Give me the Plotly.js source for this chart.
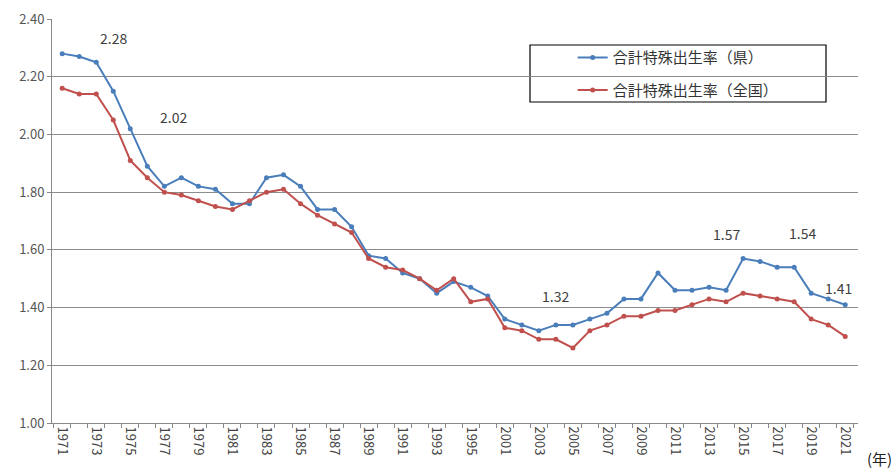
<!DOCTYPE html>
<html><head><meta charset="utf-8">
<script src="https://cdn.plot.ly/plotly-3.0.1.min.js"></script>
<style>html,body{margin:0;padding:0;background:#fff}#chart{width:896px;height:470px}</style>
</head><body><div id="chart"></div>
<script>
const years = ["1971","1972","1973","1974","1975","1976","1977","1978","1979","1980","1981","1982","1983","1984","1985","1986","1987","1988","1989","1990","1991","1992","1993","1994","1995","1996","2001","2002","2003","2004","2005","2006","2007","2008","2009","2010","2011","2012","2013","2014","2015","2016","2017","2018","2019","2020","2021"];
const prefRate = [2.28,2.27,2.25,2.15,2.02,1.89,1.82,1.85,1.82,1.81,1.76,1.76,1.85,1.86,1.82,1.74,1.74,1.68,1.58,1.57,1.52,1.50,1.45,1.49,1.47,1.44,1.36,1.34,1.32,1.34,1.34,1.36,1.38,1.43,1.43,1.52,1.46,1.46,1.47,1.46,1.57,1.56,1.54,1.54,1.45,1.43,1.41];
const natRate = [2.16,2.14,2.14,2.05,1.91,1.85,1.80,1.79,1.77,1.75,1.74,1.77,1.80,1.81,1.76,1.72,1.69,1.66,1.57,1.54,1.53,1.50,1.46,1.50,1.42,1.43,1.33,1.32,1.29,1.29,1.26,1.32,1.34,1.37,1.37,1.39,1.39,1.41,1.43,1.42,1.45,1.44,1.43,1.42,1.36,1.34,1.30];
const seriesNames = ["合計特殊出生率（県）","合計特殊出生率（全国）"];
const yTicks = [1.0,1.2,1.4,1.6,1.8,2.0,2.2,2.4];
const labelYears = ["1971","1975","2003","2015","2018","2021"];
const unitLabel = "(年)";

// label placement offsets in pixels (style only)
const labelShift = {"1971": [51, 16], "1975": [43, 12], "2003": [17, 35], "2015": [-17, 25], "2018": [8, 34], "2021": [-7, 17]};

const idx = years.map((_, i) => i);
const tickIdx = idx.filter(i => i % 2 === 0);
const font = "Noto Sans CJK JP, Noto Sans, sans-serif";

const traces = [
  {x: idx, y: prefRate, name: seriesNames[0], legendgroup: "a", type: "scatter", mode: "lines+markers",
   line: {color: "#4a7ebb", width: 2}, marker: {color: "#4a7ebb", size: 5}},
  {x: idx, y: natRate, name: seriesNames[1], legendgroup: "b", type: "scatter", mode: "lines+markers",
   line: {color: "#c0504d", width: 2}, marker: {color: "#c0504d", size: 5}}
];

const annotations = labelYears.map(yr => {
  const i = years.indexOf(yr);
  return {x: i, y: prefRate[i], xref: "x", yref: "y",
    text: prefRate[i].toFixed(2), showarrow: false,
    xshift: labelShift[yr][0], yshift: labelShift[yr][1],
    font: {family: font, size: 14, color: "#404040"}};
});
annotations.push({x: 1.0, y: 0, xref: "paper", yref: "paper", text: unitLabel,
  showarrow: false, xanchor: "right", yanchor: "middle", xshift: 36, yshift: -35,
  font: {family: font, size: 15, color: "#222"}});

const layout = {
  width: 896, height: 470,
  margin: {l: 52, r: 38, t: 19, b: 47},
  paper_bgcolor: "#fff", plot_bgcolor: "#fff",
  font: {family: font, size: 13, color: "#555"},
  showlegend: true,
  legend: {x: 0.646, y: 0.945, xanchor: "left", yanchor: "top",
    borderwidth: 0, bgcolor: "rgba(0,0,0,0)", traceorder: "grouped",
    font: {family: font, size: 15, color: "#333"}, tracegroupgap: 10},
  shapes: [{type: "rect", xref: "paper", yref: "paper",
    x0: (530 - 52) / 806, x1: (826 - 52) / 806, y0: (423 - 102) / 404, y1: (423 - 45) / 404,
    line: {color: "#000", width: 1.2}, fillcolor: "#fff", layer: "below"}],
  xaxis: {type: "linear", range: [-0.6, 46.75], tickmode: "array",
    tickvals: tickIdx, ticktext: tickIdx.map(i => years[i]), tickangle: 90,
    ticks: "", showgrid: false, zeroline: false, showline: true,
    linecolor: "#888", linewidth: 1,
    tickfont: {family: font, size: 13, color: "#444"},
    minor: {tickmode: "linear", tick0: -0.5, dtick: 1, ticks: "outside", ticklen: 4, tickcolor: "#888", showgrid: false}},
  yaxis: {range: [1.0, 2.4], tickmode: "array", tickvals: yTicks,
    ticktext: yTicks.map(v => v.toFixed(2)), showgrid: true, gridcolor: "#8c8c8c",
    gridwidth: 1, zeroline: false, showline: true, linecolor: "#888",
    ticks: "outside", ticklen: 4, tickcolor: "#888",
    tickfont: {family: font, size: 13, color: "#555"}},
  annotations: annotations
};
Plotly.newPlot("chart", traces, layout, {displayModeBar: false, staticPlot: true});
</script></body></html>
